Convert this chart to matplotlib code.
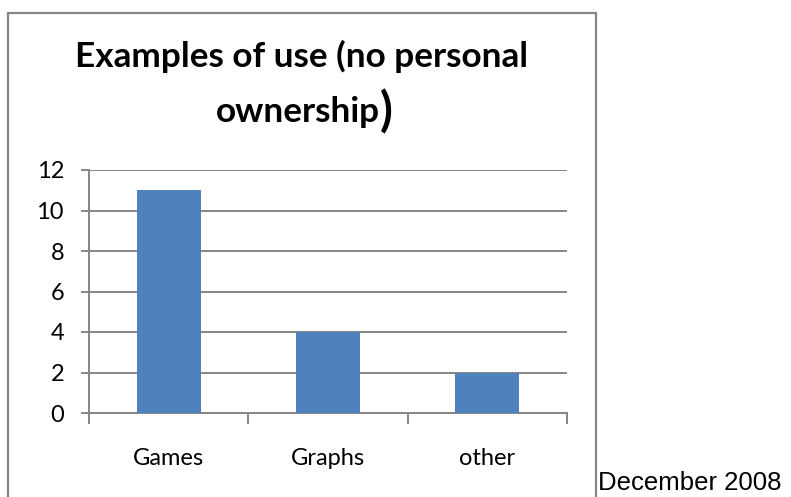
import matplotlib.pyplot as plt
from matplotlib.patches import Rectangle

# data
categories = ['Games', 'Graphs', 'other']
counts = [11, 4, 2]
y_ticks = [0, 2, 4, 6, 8, 10, 12]

grey = '#868686'
bar_blue = '#4F81BD'

fig = plt.figure(figsize=(7.91, 4.97), dpi=100)
W, H = 791, 497

# chart frame
fig.patches.append(Rectangle((8 / W, -0.05), 588 / W, 1.05 - 13 / H,
                             transform=fig.transFigure, fill=False,
                             edgecolor=grey, lw=1.6))

ax = fig.add_axes([89 / W, 1 - 413 / H, (567 - 89) / W, (413 - 170) / H])
x = range(len(categories))
ax.bar(x, counts, width=0.4, color=bar_blue, zorder=3)

ax.set_xlim(-0.5, len(categories) - 0.5)
ax.set_ylim(0, 12)
ax.set_yticks(y_ticks)
ax.yaxis.grid(True, color=grey, lw=1.4, zorder=0)

ax.set_xticks(list(x))
ax.set_xticklabels(categories, family='Lato', fontsize=17)
ax.set_xticks([i - 0.5 for i in range(len(categories) + 1)], minor=True)
ax.tick_params(axis='x', which='major', length=0, pad=25)
ax.tick_params(axis='x', which='minor', length=8, width=1.4, color=grey, direction='out')
ax.tick_params(axis='y', length=6, width=1.4, color=grey, pad=12)
for lab in ax.get_yticklabels():
    lab.set_family('Lato')
    lab.set_fontsize(17)

for s in ['top', 'right']:
    ax.spines[s].set_visible(False)
for s in ['left', 'bottom']:
    ax.spines[s].set_color(grey)
    ax.spines[s].set_linewidth(1.4)

# title, last paren drawn bigger
fig.text(302 / W, 1 - 67 / H, 'Examples of use (no personal', ha='center',
         va='baseline', family='Lato', weight='bold', fontsize=25.3)
fig.text(380 / W, 1 - 122 / H, 'ownership', ha='right', va='baseline',
         family='Lato', weight='bold', fontsize=25.3)
fig.text(380 / W, 1 - 126 / H, ')', ha='left', va='baseline',
         family='Lato', weight='bold', fontsize=34)

fig.text(598 / W, 1 - 490 / H, 'December 2008', ha='left', va='baseline',
         family='Liberation Sans', fontsize=18.5)

fig.savefig('out.png', dpi=100)
